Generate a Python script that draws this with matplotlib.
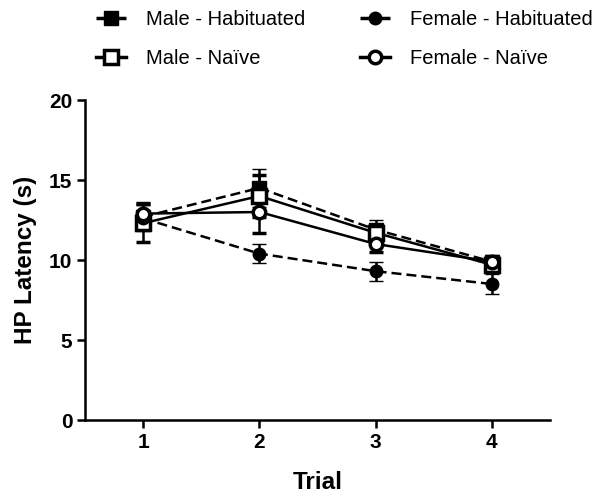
import numpy as np
import matplotlib
matplotlib.use("Agg")
import matplotlib.pyplot as plt
from matplotlib.lines import Line2D

plt.rcParams["font.family"] = ["Liberation Sans", "DejaVu Sans"]

# Data
trials = [1, 2, 3, 4]

male_hab = [12.7, 14.5, 11.9, 9.9]
male_hab_err = [0.9, 1.2, 0.6, 0.4]

male_naive = [12.3, 14.0, 11.7, 9.7]
male_naive_err = [1.2, 1.3, 0.5, 0.4]

female_hab = [12.6, 10.4, 9.3, 8.5]
female_hab_err = [0.5, 0.6, 0.6, 0.6]

female_naive = [12.9, 13.0, 11.0, 9.9]
female_naive_err = [0.6, 1.3, 0.5, 0.3]

labels = ["Male - Habituated", "Male - Naïve",
          "Female - Habituated", "Female - Naïve"]

fig = plt.figure(figsize=(6.0, 4.96), dpi=100)
ax = fig.add_axes([85 / 600, 76 / 496, 465 / 600, 320 / 496])

lw = 1.8
dash = (0, (4, 2))
common = dict(color="black", elinewidth=lw, capsize=5, capthick=2.5, linewidth=lw)

styles = [
    dict(marker="s", ls=dash, ms=10.5, mfc="black", mew=1),
    dict(marker="s", ls="-", ms=10.5, mfc="white", mew=2.5),
    dict(marker="o", ls=dash, ms=9, mfc="black", mew=1),
    dict(marker="o", ls="-", ms=9, mfc="white", mew=2.5),
]
series = [(male_hab, male_hab_err), (male_naive, male_naive_err),
          (female_hab, female_hab_err), (female_naive, female_naive_err)]

handles = []
for (vals, errs), st, lab in zip(series, styles, labels):
    ax.errorbar(trials, vals, yerr=errs, fmt=st["marker"], linestyle=st["ls"],
                markersize=st["ms"], markerfacecolor=st["mfc"],
                markeredgecolor="black", markeredgewidth=st["mew"], **common)
    handles.append(Line2D([], [], color="black", linewidth=2.5, linestyle=st["ls"],
                          marker=st["marker"], markersize=st["ms"],
                          markerfacecolor=st["mfc"], markeredgecolor="black",
                          markeredgewidth=st["mew"]))

ax.set_xlim(0.5, 4.5)
ax.set_ylim(0, 20)
ax.set_xticks(trials)
ax.set_yticks([0, 5, 10, 15, 20])

for s in ["top", "right"]:
    ax.spines[s].set_visible(False)
for s in ["left", "bottom"]:
    ax.spines[s].set_linewidth(lw)

ax.tick_params(direction="out", length=6, width=lw, labelsize=15, pad=3)
for t in ax.get_xticklabels() + ax.get_yticklabels():
    t.set_fontweight("bold")

ax.set_xlabel("Trial", fontsize=17.5, fontweight="bold", labelpad=14)
ax.set_ylabel("HP Latency (s)", fontsize=17.5, fontweight="bold", labelpad=9)

fig.legend(handles=handles, labels=labels, loc="upper left",
           bbox_to_anchor=(78 / 600, 1.017), ncol=2, frameon=False,
           fontsize=14.5, handlelength=1.5, handletextpad=1.0,
           columnspacing=2.7, labelspacing=1.0)

fig.savefig("out.png", dpi=100)
